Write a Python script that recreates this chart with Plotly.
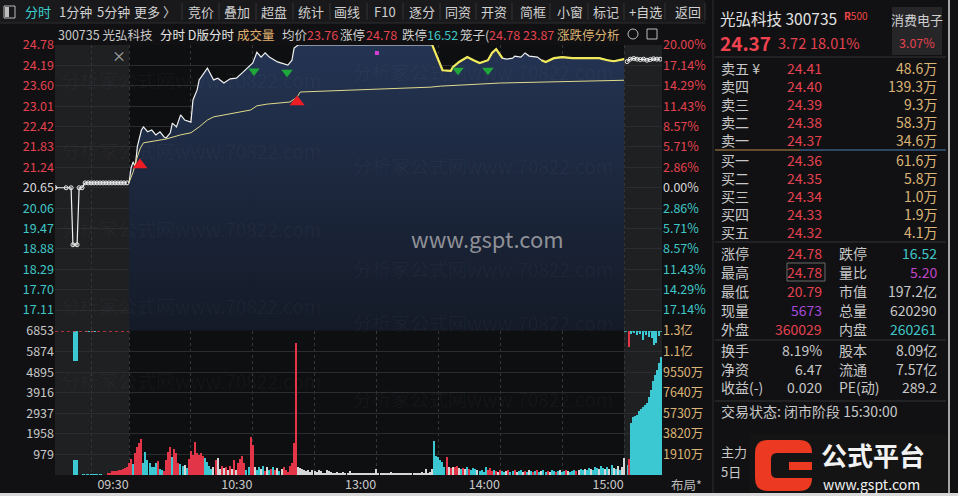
import plotly.graph_objects as go

W, H = 958, 496
FONT = "Noto Sans CJK SC, Noto Sans, sans-serif"
RED, CYAN, GRAY, TAN = "#e4424f", "#3fc7c7", "#c8c8c8", "#dcb476"

# ---------------- data ----------------
prev_close = 20.65
price_ticks = [24.78, 24.19, 23.60, 23.01, 22.42, 21.83, 21.24, 20.65, 20.06, 19.47, 18.88, 18.29, 17.70, 17.11]
vol_ticks = [979, 1958, 2937, 3916, 4895, 5874, 6853]
amt_ticks = [1910, 3820, 5730, 7640, 9550, 11460, 13370]
amt_labels = ["1910万", "3820万", "5730万", "7640万", "9550万", "1.1亿", "1.3亿"]
time_ticks = [-18, 0, 30, 60, 90, 120, 150, 180, 210, 240]
time_labels = ["", "09:30", "", "10:30", "", "13:00", "", "14:00", "", "15:00"]

# minute index (0 = 09:30, 120 = 13:00, 240 = 15:00)
price_t = [0, 1, 2, 3, 4, 6, 7, 9, 11, 13, 15, 17, 18, 20, 21, 23, 25, 27, 30, 31, 33, 34, 38, 41, 43, 46,
           49, 52, 55, 58, 60, 62, 64, 66, 68, 72, 74, 77, 79, 80, 82, 147, 152, 156, 157, 160, 164, 167,
           170, 174, 176, 178, 181, 183, 186, 187, 190, 192, 194, 198, 200, 202, 206, 210, 215, 222, 228,
           232, 235, 240]
price_v = [20.79, 21.23, 21.40, 21.26, 21.83, 22.32, 22.41, 22.27, 22.32, 22.18, 22.27, 22.12, 22.09, 22.24,
           22.52, 22.41, 22.76, 22.61, 22.55, 23.19, 23.48, 23.77, 24.11, 23.77, 23.82, 23.68, 23.80, 23.82,
           23.98, 24.15, 24.26, 24.57, 24.43, 24.55, 24.43, 24.29, 24.26, 24.20, 24.34, 24.69, 24.78, 24.78,
           24.05, 24.03, 24.14, 24.29, 24.43, 24.34, 24.26, 24.34, 24.55, 24.66, 24.40, 24.37, 24.40, 24.46,
           24.43, 24.55, 24.46, 24.43, 24.34, 24.29, 24.40, 24.43, 24.40, 24.40, 24.40, 24.34, 24.31, 24.37]
yellow_spans = [(147, 181), (200, 240)]

avg_t = [0, 2, 4, 5.5, 7, 10, 18, 25, 30, 34, 38, 41, 50, 59, 62, 67, 78, 81.5, 83, 99, 120, 146, 151, 180, 240]
avg_v = [20.80, 21.11, 21.54, 21.80, 21.95, 21.98, 22.06, 22.18, 22.24, 22.41, 22.61, 22.70, 22.81, 22.90,
         23.02, 23.07, 23.13, 23.27, 23.42, 23.45, 23.50, 23.56, 23.59, 23.68, 23.76]

pre_t = [-35.9, -30.5, -28.1, -27.2, -25.2, -24.2, -22.8, -21.3, -19.8, -18.4, -17.0, -15.5, -14.1, -12.6,
         -11.2, -9.7, -8.3, -6.8, -5.4, -3.9, -2.5, -1.0]
pre_v = [20.65, 20.65, 20.65, 19.00, 19.00, 20.65, 20.65, 20.79, 20.79, 20.79, 20.79, 20.79, 20.79, 20.79,
         20.79, 20.79, 20.79, 20.79, 20.79, 20.79, 20.79, 20.79]
post_t = [241.5, 243.0, 244.7, 246.3, 247.9, 249.5, 251.1, 252.7, 254.3, 255.9, 257.5]
post_v = [24.30, 24.37, 24.39, 24.37, 24.36, 24.37, 24.34, 24.36, 24.38, 24.37, 24.37]

buy_sig_t, buy_sig_v = [5.3, 81.5], [21.31, 23.13]
sell_sig_t, sell_sig_v = [60.6, 76.6, 159.5, 174], [24.03, 23.99, 24.05, 24.05]
mark_t, mark_v = [120.2], [24.55]

vol_a = [585, 745, 507, 1030, 1346, 1505, 1695, 554, 1108, 713, 554, 396, 396, 554, 681, 269, 238, 206, 713, 1108,
         1315, 840, 1220, 1030, 585, 523, 428, 475, 317, 745, 1156, 950, 1585, 1030, 950, 1030, 903, 792, 634, 428,
         269, 396, 713, 792, 269, 428, 317, 396, 238, 428, 269, 713, 238, 586, 745, 903, 586, 238, 396, 1822,
         1425, 364, 238, 396, 269, 428, 206, 396, 238, 269, 396, 238, 317, 206, 269, 396, 238, 158, 428, 586,
         1505, 6270]
side_a = "rrcrrrrccc" "ccccrccrrr" "rcrrrccwcr" "rrrrrrrccc" "cwrwwrwrwr" "wrwrrrrccr" "rwccwcrwcr" "crwcwrrrrr" "rr"
vol_b = [364, 317, 269, 238, 206, 238, 158, 238, 206, 158, 238, 190, 111, 111, 238, 190, 158, 111, 79, 158,
         79, 111, 158, 79, 111, 190, 111, 79, 79, 79, 63, 79, 63, 79, 79, 95, 79, 63]
side_b = "w" * 38
vol_c = [269, 95, 79, 111, 63, 79, 95, 127, 79, 63, 95, 79, 111, 79, 63, 79, 95, 63, 79, 111, 79, 95, 127, 111,
         269, 111, 158, 269]
side_c = "w" * 28
vol_d = [1630, 903, 840, 713, 634, 396, 871, 364, 317, 396, 396, 428, 317, 269, 317, 269, 396, 269, 238, 317,
         269, 238, 206, 238, 158, 396, 238, 317]
side_d = "ccccccrwrw" "rrwcrwcrcc" "cwccccrr"
vol_e = [206, 238, 206, 158, 238, 206, 158, 206, 238, 158, 206, 238, 158, 206, 238, 158, 206, 158, 238, 206,
         158, 206, 238, 158, 206, 238, 158, 206, 158, 238, 206, 158, 206, 238, 158, 206, 238, 206, 158, 206,
         238, 206, 238, 269, 238, 269, 238, 317, 269, 238, 396, 317, 269, 428, 317, 269, 396, 269, 475, 317,
         269, 428, 238, 396, 808]
side_e = "rcrwrccwrc" "crwccwrcwc" "rcrcwccrwc" "crcwccrwcc" "crwccwccwc" "ccwccwcwcw" "cwcww"

pre_hang_t, pre_hang_v = [-26, -21, -19.5, -18, -16.5], [1426, 45, 45, 45, 45]
pre_vol_t = [-26, -22, -20, -18, -16, -14, -10, -9, -8, -7, -6, -5, -4, -3, -2, -1]
pre_vol_v = [713, 30, 30, 30, 30, 30, 95, 110, 190, 204, 210, 225, 240, 300, 333, 380]
pre_vol_side = "ccccccrrrrrrrrrr"

post_amt_t = [241.9, 242.4, 243.4, 244.4, 245.3, 246.3, 247.3, 248.2, 249.2, 250.2, 251.2, 252.1, 253.1,
              254.1, 255.0, 256.0, 257.0, 257.9]
post_amt_v = [927, 1484, 4821, 5378, 5470, 5600, 5900, 6100, 6300, 6500, 6680, 7200, 7900, 8700, 9270, 9730,
              10380, 10940]
post_amt_side = "cr" + "c" * 16
post_hang_t = [242.4, 243.4, 244.9, 246.3, 247.8, 249.2, 250.7, 252.1, 253.6, 254.6, 255.5, 257.0]
post_hang_v = [1484, 278, 185, 371, 278, 834, 371, 556, 649, 1298, 1112, 463]
post_hang_side = "r" + "c" * 11

ask_labels = ["卖五 ¥", "卖四", "卖三", "卖二", "卖一"]
ask_prices = ["24.41", "24.40", "24.39", "24.38", "24.37"]
ask_vols = ["48.6万", "139.3万", "9.3万", "58.3万", "34.6万"]
bid_labels = ["买一", "买二", "买三", "买四", "买五"]
bid_prices = ["24.36", "24.35", "24.34", "24.33", "24.32"]
bid_vols = ["61.6万", "5.8万", "1.0万", "1.9万", "4.1万"]

stat_l1 = ["涨停", "最高", "最低", "现量", "外盘"]
stat_v1 = ["24.78", "24.78", "20.79", "5673", "360029"]
stat_c1 = [RED, RED, RED, "#a44ad8", RED]
stat_l2 = ["跌停", "量比", "市值", "总量", "内盘"]
stat_v2 = ["16.52", "5.20", "197.2亿", "620290", "260261"]
stat_c2 = [CYAN, "#c246c8", GRAY, GRAY, CYAN]
fin_l1 = ["换手", "净资", "收益(-)"]
fin_v1 = ["8.19%", "6.47", "0.020"]
fin_l2 = ["股本", "流通", "PE(动)"]
fin_v2 = ["8.09亿", "7.57亿", "289.2"]

toolbar = [("分时", 38), ("1分钟", 75), ("5分钟", 113), ("更多 〉", 155), ("竞价", 201), ("叠加", 237),
           ("超盘", 274), ("统计", 311), ("画线", 347), ("F10", 385), ("逐分", 422), ("同资", 458),
           ("开资", 494), ("简框", 533), ("小窗", 570), ("标记", 606), ("+自选", 645), ("返回", 688)]
toolbar_seps = [182, 219, 256, 293, 330, 367, 403, 440, 476, 512, 550, 588, 624, 665, 705]

# ---------------- helpers ----------------
def px(x):
    return x / W

def py(y):
    return 1 - y / H

COLMAP = {"r": "#e23548", "c": "#3cc8d2", "w": "#d6d6d6"}

def tick_color(p):
    if abs(p - prev_close) < 1e-6:
        return "#d8d8d8"
    return RED if p > prev_close else CYAN

fig = go.Figure()

fig.add_trace(go.Scatter(x=price_t, y=price_v, mode="lines", line=dict(color="#f2f2f2", width=1.2),
                         fill="tozeroy",
                         fillgradient=dict(type="vertical", start=16.52, stop=24.78,
                                           colorscale=[[0, "#141a27"], [1, "#243453"]]),
                         xaxis="x", yaxis="y"))
for a, b in yellow_spans:
    xs = [t for t in price_t if a <= t <= b]
    ys = [v for t, v in zip(price_t, price_v) if a <= t <= b]
    fig.add_trace(go.Scatter(x=xs, y=ys, mode="lines", line=dict(color="#f0ea5a", width=2.2),
                             xaxis="x", yaxis="y"))
fig.add_trace(go.Scatter(x=avg_t, y=avg_v, mode="lines", line=dict(color="#e0d98c", width=1),
                         xaxis="x", yaxis="y"))
fig.add_trace(go.Scatter(x=pre_t, y=pre_v, mode="lines+markers", line=dict(color="#f0f0f0", width=1.2),
                         marker=dict(symbol="circle-open", size=4, color="#f0f0f0", line=dict(width=1)),
                         xaxis="x", yaxis="y"))
fig.add_trace(go.Scatter(x=post_t, y=post_v, mode="lines+markers", line=dict(color="#f0f0f0", width=1.2),
                         marker=dict(symbol="circle-open", size=4, color="#f0f0f0", line=dict(width=1)),
                         xaxis="x", yaxis="y"))
fig.add_trace(go.Scatter(x=buy_sig_t, y=buy_sig_v, mode="markers",
                         marker=dict(symbol="triangle-up", size=13, color="#ee1c25"), xaxis="x", yaxis="y"))
fig.add_trace(go.Scatter(x=sell_sig_t, y=sell_sig_v, mode="markers",
                         marker=dict(symbol="triangle-down", size=10, color="#1fa83a"), xaxis="x", yaxis="y"))
fig.add_trace(go.Scatter(x=mark_t, y=mark_v, mode="markers",
                         marker=dict(symbol="square", size=4, color="#d23fd2"), xaxis="x", yaxis="y"))
fig.add_trace(go.Scatter(x=[price_t[0]], y=[0], mode="markers", marker=dict(opacity=0),
                         xaxis="x", yaxis="y4"))

vol_main = vol_a + vol_b + vol_c + vol_d + vol_e
side_main = side_a + side_b + side_c + side_d + side_e
vol_t = list(range(len(vol_main)))
fig.add_trace(go.Bar(x=vol_t, y=vol_main, width=0.6,
                     marker=dict(color=[COLMAP[s] for s in side_main], line=dict(width=0)),
                     xaxis="x2", yaxis="y2"))
fig.add_trace(go.Bar(x=pre_vol_t, y=pre_vol_v, width=[2.6] + [1.6] * 5 + [1.05] * 10,
                     marker=dict(color=[COLMAP[s] for s in pre_vol_side], line=dict(width=0)),
                     xaxis="x2", yaxis="y2"))
fig.add_trace(go.Bar(x=pre_hang_t, y=[-v for v in pre_hang_v], base=vol_ticks[-1], width=[2.6, 1, 1, 1, 1],
                     marker=dict(color=COLMAP["c"], line=dict(width=0)), xaxis="x2", yaxis="y2"))
fig.add_trace(go.Bar(x=post_amt_t, y=post_amt_v, width=0.7,
                     marker=dict(color=[COLMAP[s] for s in post_amt_side], line=dict(width=0)),
                     xaxis="x2", yaxis="y3"))
fig.add_trace(go.Bar(x=post_hang_t, y=[-v for v in post_hang_v], base=amt_ticks[-1], width=0.6,
                     marker=dict(color=[COLMAP[s] for s in post_hang_side], line=dict(width=0)),
                     xaxis="x2", yaxis="y3"))

XDOM = [px(55), px(662)]
XR = [-35.9, 258.4]
grid = "#2a2c31"
axfont = dict(family=FONT, size=12.5)

price_text = ['<span style="color:%s">%.2f</span>' % (tick_color(p), p) for p in price_ticks]
pct_vals = [(p / prev_close - 1) * 100 for p in price_ticks]
pct_text = ['<span style="color:%s">%.2f%%</span>' % (tick_color(p), abs(v)) for p, v in zip(price_ticks, pct_vals)]

fig.update_layout(
    width=W, height=H, margin=dict(l=0, r=0, t=0, b=0, autoexpand=False),
    paper_bgcolor="#111113", plot_bgcolor="#0e0f11",
    showlegend=False, hovermode=False, barmode="overlay", bargap=0,
    font=dict(family=FONT, color=GRAY, size=13),
    xaxis=dict(domain=XDOM, range=XR, anchor="y", tickvals=time_ticks, showticklabels=False, automargin=False,
               showgrid=True, gridcolor="#33353a", griddash="dot", zeroline=False, showline=False, ticks=""),
    xaxis2=dict(domain=XDOM, range=XR, anchor="y2", matches="x", tickvals=time_ticks, ticktext=time_labels,
                automargin=False, showgrid=True, gridcolor="#33353a", griddash="dot", zeroline=False,
                showline=False, ticks="", ticklabelshift=-16,
                tickfont=dict(family=FONT, size=12.5, color=GRAY)),
    yaxis=dict(domain=[py(330.5), py(45)], range=[16.52, 24.78], anchor="x", tickvals=price_ticks,
               ticktext=price_text, automargin=False, showgrid=True, gridcolor=grid, zeroline=False, ticks="",
               tickfont=axfont),
    yaxis4=dict(overlaying="y", side="right", anchor="x", range=[-20, 20], tickvals=pct_vals, ticktext=pct_text,
                automargin=False, showgrid=False, zeroline=False, ticks="", tickfont=axfont),
    yaxis2=dict(domain=[py(475), py(331)], range=[0, vol_ticks[-1]], anchor="x2", tickvals=vol_ticks,
                automargin=False, showgrid=True, gridcolor=grid, zeroline=False, ticks="",
                tickfont=dict(family=FONT, size=12.5, color=GRAY)),
    yaxis3=dict(overlaying="y2", side="right", anchor="x2", range=[0, amt_ticks[-1]], tickvals=amt_ticks,
                ticktext=amt_labels, automargin=False, showgrid=False, zeroline=False, ticks="",
                tickfont=dict(family=FONT, size=12.5, color=TAN)),
)

shapes = []
for x0, x1 in [(XR[0], 0), (240, XR[1])]:
    shapes.append(dict(type="rect", xref="x", yref="paper", x0=x0, x1=x1, y0=py(475), y1=py(45),
                       fillcolor="#1f2022", line=dict(width=0), layer="below"))
shapes.append(dict(type="line", xref="x2", yref="y2", x0=XR[0], x1=0, y0=vol_ticks[-1], y1=vol_ticks[-1],
                   line=dict(color="#e23548", width=1.5, dash="dot")))
shapes.append(dict(type="line", xref="x2", yref="y2", x0=240, x1=XR[1], y0=vol_ticks[-1], y1=vol_ticks[-1],
                   line=dict(color="#3cc8d2", width=1.5, dash="dot")))
shapes.append(dict(type="rect", xref="paper", yref="paper", x0=0, x1=px(705), y0=py(23), y1=1,
                   fillcolor="#19191b", line=dict(width=0)))
shapes.append(dict(type="line", xref="paper", yref="paper", x0=0, x1=px(705), y0=py(23), y1=py(23),
                   line=dict(color="#2e2e30", width=1)))
for s in toolbar_seps:
    shapes.append(dict(type="line", xref="paper", yref="paper", x0=px(s), x1=px(s), y0=py(20), y1=py(3),
                       line=dict(color="#343437", width=1)))
shapes.append(dict(type="rect", xref="paper", yref="paper", x0=px(4), x1=px(15), y0=py(18), y1=py(6),
                   line=dict(color="#bbbbbb", width=1)))
shapes.append(dict(type="rect", xref="paper", yref="paper", x0=px(5), x1=px(9), y0=py(17), y1=py(7),
                   fillcolor="#bbbbbb", line=dict(width=0)))
shapes.append(dict(type="circle", xref="paper", yref="paper", x0=px(628), x1=px(638), y0=py(39), y1=py(29),
                   line=dict(color="#bbbbbb", width=1)))
shapes.append(dict(type="rect", xref="paper", yref="paper", x0=px(647), x1=px(657), y0=py(39), y1=py(29),
                   line=dict(color="#bbbbbb", width=1)))
shapes.append(dict(type="line", xref="paper", yref="paper", x0=px(713), x1=px(713), y0=0, y1=1,
                   line=dict(color="#2f2f32", width=1)))
shapes.append(dict(type="line", xref="paper", yref="paper", x0=px(949), x1=px(949), y0=0, y1=1,
                   line=dict(color="#d8d8d8", width=1.5)))
shapes.append(dict(type="rect", xref="paper", yref="paper", x0=0, x1=1, y0=0, y1=py(493),
                   fillcolor="#d8d8d8", line=dict(width=0)))
for yy in [57, 242, 340, 401]:
    shapes.append(dict(type="line", xref="paper", yref="paper", x0=px(715), x1=px(946), y0=py(yy), y1=py(yy),
                       line=dict(color="#343438", width=1)))
shapes.append(dict(type="line", xref="paper", yref="paper", x0=px(715), x1=px(800), y0=py(150), y1=py(150),
                   line=dict(color="#b98a4a", width=1)))
shapes.append(dict(type="line", xref="paper", yref="paper", x0=px(800), x1=px(946), y0=py(150), y1=py(150),
                   line=dict(color="#4d7fb5", width=1)))
shapes.append(dict(type="rect", xref="paper", yref="paper", x0=px(892), x1=px(942), y0=py(55), y1=py(7),
                   fillcolor="#262629", line=dict(width=0)))
shapes.append(dict(type="rect", xref="paper", yref="paper", x0=px(787), x1=px(825), y0=py(281), y1=py(263),
                   line=dict(color="#6a6a6a", width=1)))
shapes.append(dict(type="rect", xref="paper", yref="paper", x0=px(750), x1=px(948), y0=py(493), y1=py(434),
                   fillcolor="#141414", line=dict(width=0)))

def rpath(x0, y0, x1, y1, r):
    X0, X1, Y0, Y1 = px(x0), px(x1), py(y0), py(y1)
    rx, ry = r / W, r / H
    return ("M %f,%f L %f,%f Q %f,%f %f,%f L %f,%f Q %f,%f %f,%f L %f,%f Q %f,%f %f,%f L %f,%f Q %f,%f %f,%f Z"
            % (X0 + rx, Y0, X1 - rx, Y0, X1, Y0, X1, Y0 - ry, X1, Y1 + ry, X1, Y1, X1 - rx, Y1,
               X0 + rx, Y1, X0, Y1, X0, Y1 + ry, X0, Y0 - ry, X0, Y0, X0 + rx, Y0))

shapes.append(dict(type="path", xref="paper", yref="paper", path=rpath(755, 440, 812, 491, 13),
                   fillcolor="#ec3a22", line=dict(width=0)))
shapes.append(dict(type="path", xref="paper", yref="paper", path=rpath(771, 453, 818, 478, 6),
                   fillcolor="#141414", line=dict(width=0)))
shapes.append(dict(type="rect", xref="paper", yref="paper", x0=px(789), x1=px(812), y0=py(470), y1=py(462),
                   fillcolor="#ec3a22", line=dict(width=0)))
fig.update_layout(shapes=shapes)

anns = []
def ann(x, y, text, color=GRAY, size=13, xanchor="left"):
    anns.append(dict(x=px(x), y=py(y), xref="paper", yref="paper", text=text, showarrow=False,
                     xanchor=xanchor, yanchor="middle", borderpad=0,
                     font=dict(family=FONT, size=size, color=color)))

for wx, wy in [(60, 80), (352, 72), (60, 150), (352, 165), (60, 228), (352, 268), (60, 305), (352, 322),
               (60, 380), (352, 398)]:
    ann(wx, wy, "分析家公式网www.70822.com", "rgba(255,255,255,0.035)", 19)
ann(487, 238, "www.gspt.com", "rgba(175,175,178,0.8)", 22, "center")

for label, cx in toolbar:
    ann(cx, 12, label, "#3cd0d0" if label == "分时" else "#d0d0d0", 13, "center")

hdr = 12.5
ann(57, 34, "300735 光弘科技", "#c8c8c8", hdr)
ann(159, 34, "分时 D版分时", "#e4e4e4", hdr)
ann(236, 34, "成交量", "#e0b070", hdr)
ann(281, 34, "均价", "#d0d0d0", hdr)
ann(306, 34, "23.76", RED, hdr)
ann(339, 34, "涨停", "#d0d0d0", hdr)
ann(365, 34, "24.78", RED, hdr)
ann(401, 34, "跌停", "#d0d0d0", hdr)
ann(426, 34, "16.52", CYAN, hdr)
ann(459, 34, "笼子(", "#d0d0d0", hdr)
ann(488, 34, "24.78 23.87", RED, hdr)
ann(556, 34, "涨跌停分析", "#d8b070", hdr)
ann(119, 55, "×", "#aaaaaa", 14, "center")
ann(670, 484, "布局*", "#bdbdbd", 12.5)

ann(719, 18, "光弘科技 300735", "#e2e2e2", 15.5)
ann(843, 15, "<b>R</b>500", "#f04646", 10)
ann(917, 19, "消费电子", "#cfcfcf", 13, "center")
ann(917, 43, "3.07%", RED, 12.5, "center")
ann(719, 42, "<b>24.37</b>", "#f0424f", 19)
ann(777, 43, "3.72", RED, 14.5)
ann(809, 43, "18.01%", RED, 14.5)
for i in range(5):
    y = 68 + 18 * i
    ann(720, y, ask_labels[i], GRAY, 14)
    ann(823, y, ask_prices[i], RED, 14, "right")
    ann(938, y, ask_vols[i], TAN, 14, "right")
for i in range(5):
    y = 160 + 18 * i
    ann(720, y, bid_labels[i], GRAY, 14)
    ann(823, y, bid_prices[i], RED, 14, "right")
    ann(938, y, bid_vols[i], TAN, 14, "right")
for i in range(5):
    y = 253 + 19 * i
    ann(720, y, stat_l1[i], GRAY, 14)
    ann(823, y, stat_v1[i], stat_c1[i], 14, "right")
    ann(838, y, stat_l2[i], GRAY, 14)
    ann(938, y, stat_v2[i], stat_c2[i], 14, "right")
for i in range(3):
    y = 350 + 18.5 * i
    ann(720, y, fin_l1[i], GRAY, 14)
    ann(823, y, fin_v1[i], GRAY, 14, "right")
    ann(838, y, fin_l2[i], GRAY, 14)
    ann(938, y, fin_v2[i], GRAY, 14, "right")
ann(720, 411, "交易状态: 闭市阶段 15:30:00", GRAY, 14)
ann(720, 451, "主力", GRAY, 13)
ann(720, 471, "5日", GRAY, 13)
ann(820, 454, "<b>公式平台</b>", "#f2f2f2", 26)
ann(822, 484, "www.gspt.com", "#f2f2f2", 14)
fig.update_layout(annotations=anns)

fig.write_html("out.html", config={"displayModeBar": False},
               post_script="document.body.style.margin='0';document.body.style.background='#111113';")
